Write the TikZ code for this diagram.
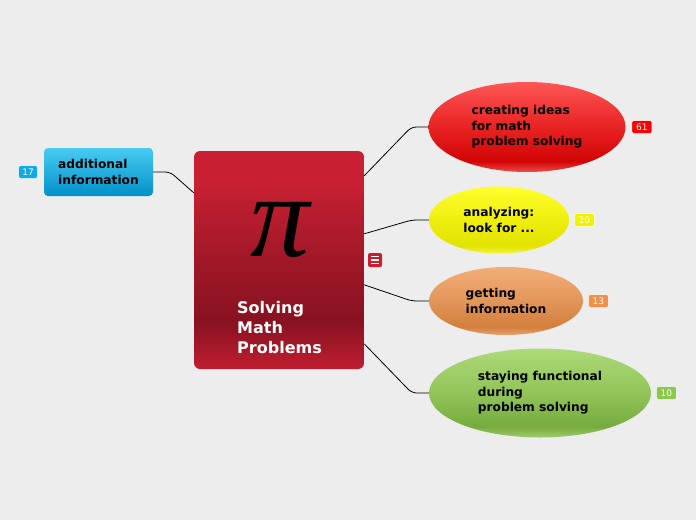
\documentclass[tikz,border=0pt]{standalone}
\usepackage{fontspec}
\setmainfont{DejaVu Sans}
\newfontfamily\pifont{Liberation Serif}
\usetikzlibrary{shapes.geometric, positioning}

\definecolor{BgGray}{RGB}{237, 237, 237}
\definecolor{CoreTop}{RGB}{200, 32, 50}
\definecolor{CoreMid}{RGB}{170, 26, 42}
\definecolor{CoreDark}{RGB}{136, 18, 32}
\definecolor{CoreBot}{RGB}{192, 30, 48}
\definecolor{NoteRed}{RGB}{200, 30, 48}
\definecolor{IdeaTop}{RGB}{255, 86, 86}
\definecolor{IdeaMid}{RGB}{234, 38, 38}
\definecolor{IdeaBot}{RGB}{210, 4, 4}
\definecolor{IdeaRim}{RGB}{236, 76, 76}
\definecolor{IdeaBadge}{RGB}{250, 0, 0}
\definecolor{YellowTop}{RGB}{255, 255, 44}
\definecolor{YellowMid}{RGB}{240, 240, 16}
\definecolor{YellowBot}{RGB}{226, 226, 0}
\definecolor{YellowRim}{RGB}{244, 244, 60}
\definecolor{YellowBadge}{RGB}{242, 242, 0}
\definecolor{OrangeTop}{RGB}{242, 174, 120}
\definecolor{OrangeMid}{RGB}{228, 152, 92}
\definecolor{OrangeBot}{RGB}{210, 126, 60}
\definecolor{OrangeRim}{RGB}{232, 164, 112}
\definecolor{OrangeBadge}{RGB}{240, 144, 74}
\definecolor{GreenTop}{RGB}{172, 218, 120}
\definecolor{GreenMid}{RGB}{148, 198, 92}
\definecolor{GreenBot}{RGB}{118, 172, 62}
\definecolor{GreenRim}{RGB}{160, 204, 110}
\definecolor{GreenBadge}{RGB}{140, 200, 76}
\definecolor{BlueTop}{RGB}{72, 204, 242}
\definecolor{BlueBot}{RGB}{0, 144, 200}
\definecolor{BlueBadge}{RGB}{16, 170, 232}

\pgfdeclareverticalshading{coreshade}{100bp}{color(0bp)=(CoreBot); color(25bp)=(CoreBot); color(36bp)=(CoreDark); color(55bp)=(CoreMid); color(68bp)=(CoreTop); color(100bp)=(CoreTop)}
\pgfdeclareverticalshading{ideashade}{100bp}{color(0bp)=(IdeaRim); color(25bp)=(IdeaRim); color(31bp)=(IdeaBot); color(52bp)=(IdeaMid); color(75bp)=(IdeaTop); color(100bp)=(IdeaTop)}
\pgfdeclareverticalshading{yellowshade}{100bp}{color(0bp)=(YellowRim); color(25bp)=(YellowRim); color(31bp)=(YellowBot); color(52bp)=(YellowMid); color(75bp)=(YellowTop); color(100bp)=(YellowTop)}
\pgfdeclareverticalshading{orangeshade}{100bp}{color(0bp)=(OrangeRim); color(25bp)=(OrangeRim); color(31bp)=(OrangeBot); color(52bp)=(OrangeMid); color(75bp)=(OrangeTop); color(100bp)=(OrangeTop)}
\pgfdeclareverticalshading{greenshade}{100bp}{color(0bp)=(GreenRim); color(25bp)=(GreenRim); color(31bp)=(GreenBot); color(52bp)=(GreenMid); color(75bp)=(GreenTop); color(100bp)=(GreenTop)}

\begin{document}
\begin{tikzpicture}[x=1pt, y=-1pt, font=\bfseries\fontsize{12.2}{15.5}\selectfont,
    topic/.style={ellipse, inner sep=0pt, align=left, text=black},
    badge/.style={draw=white, line width=0.5pt, rounded corners=1.5pt, inner sep=0pt, minimum width=20pt, minimum height=13pt, text=white, font=\fontsize{9}{9}\selectfont},
    link/.style={draw=black, line width=0.8pt, rounded corners=5pt}]
    \fill[BgGray] (0,0) rectangle (696,520);
    % central topic
    \node[rounded corners=6pt, shading=coreshade, minimum width=170pt, minimum height=218pt, inner sep=0pt] (core) at (279,260) {};
    \node (pi) at (280,230) {\normalfont\pifont\itshape\fontsize{118}{118}\selectfont π};
    \node[anchor=west, inner sep=0pt, text=white, align=left, font=\bfseries\fontsize{16}{20}\selectfont] (title) at (237,327.5) {Solving\\Math\\Problems};
    \node[fill=NoteRed, rounded corners=2pt, minimum size=14pt, inner sep=0pt] (note) at (375,260) {};
    \foreach \dy in {-3.5,0,3.5}
        \draw[white, line width=1.2pt] ([xshift=-4pt, yshift=\dy pt]note.center) -- ([xshift=4pt, yshift=\dy pt]note.center);
    % subtopics
    \node[topic, minimum width=197pt, minimum height=90pt, shading=ideashade] (ideas) at (527,127) {creating ideas\\for math\\problem solving};
    \node[topic, minimum width=140pt, minimum height=67pt, shading=yellowshade] (analyze) at (499,220) {analyzing:\\look for ...};
    \node[topic, minimum width=154pt, minimum height=68pt, shading=orangeshade] (getinfo) at (506,301) {getting\\information};
    \node[topic, minimum width=222pt, minimum height=89pt, shading=greenshade] (staying) at (540,393) {staying functional\\during\\problem solving};
    \node[rounded corners=4pt, minimum width=109pt, minimum height=48pt, top color=BlueTop, bottom color=BlueBot, align=left, inner sep=0pt] (addinfo) at (98.5,172) {additional\\information};
    % counters
    \node[badge, fill=IdeaBadge, right=6pt of ideas] (ideasn) {61};
    \node[badge, fill=YellowBadge, right=5pt of analyze] (analyzen) {20};
    \node[badge, fill=OrangeBadge, right=5pt of getinfo] (getinfon) {13};
    \node[badge, fill=GreenBadge, right=5pt of staying] (stayingn) {10};
    \node[badge, fill=BlueBadge, minimum width=19pt, left=6pt of addinfo] (addinfon) {17};
    % branches
    \draw[link] ([yshift=-25pt]core.north east) -- ([xshift=-17pt]ideas.west) -- (ideas.west);
    \draw[link] ([yshift=-83pt]core.north east) -- ([xshift=-17pt]analyze.west) -- (analyze.west);
    \draw[link] ([yshift=-134pt]core.north east) -- ([xshift=-17pt]getinfo.west) -- (getinfo.west);
    \draw[link] ([yshift=-193pt]core.north east) -- ([xshift=-17pt]staying.west) -- (staying.west);
    \draw[link] ([yshift=-42pt]core.north west) -- ([xshift=17pt]addinfo.east) -- (addinfo.east);
\end{tikzpicture}
\end{document}
